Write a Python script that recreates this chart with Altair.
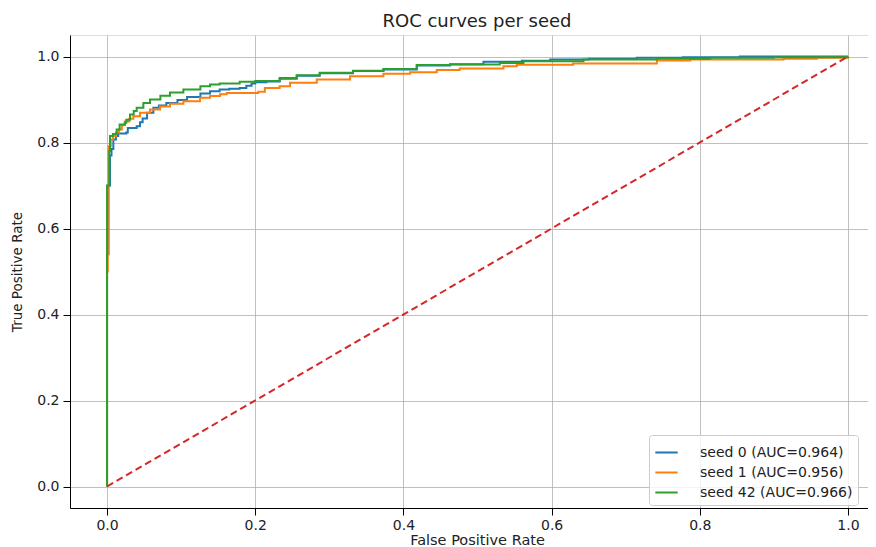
import altair as alt
import pandas as pd

# ---- data ----
seed_labels = ["seed 0 (AUC=0.964)", "seed 1 (AUC=0.956)", "seed 42 (AUC=0.966)"]
seed_colors = ["#1f77b4", "#ff7f0e", "#2ca02c"]

fpr_seed0 = [0, 0, 0.002, 0.004, 0.006, 0.0085, 0.012, 0.015, 0.026, 0.028, 0.040, 0.0445, 0.048,
             0.054, 0.0625, 0.070, 0.080, 0.095, 0.108, 0.126, 0.139, 0.152, 0.165, 0.179, 0.188,
             0.195, 0.200, 0.215, 0.233, 0.256, 0.287, 0.332, 0.373, 0.418, 0.463, 0.508, 0.560,
             0.598, 0.650, 0.715, 0.777, 0.854, 1.0]
tpr_seed0 = [0, 0.54, 0.70, 0.77, 0.785, 0.807, 0.815, 0.821, 0.823, 0.834, 0.838, 0.847, 0.856,
             0.869, 0.881, 0.886, 0.892, 0.899, 0.906, 0.914, 0.919, 0.923, 0.925, 0.927, 0.932,
             0.937, 0.940, 0.942, 0.948, 0.955, 0.961, 0.966, 0.970, 0.979, 0.982, 0.9876, 0.990,
             0.993, 0.995, 0.997, 0.9985, 1.0, 1.0]

fpr_seed1 = [0, 0, 0.001, 0.002, 0.005, 0.008, 0.012, 0.016, 0.020, 0.024, 0.030, 0.0355, 0.0445,
             0.058, 0.0715, 0.085, 0.103, 0.1255, 0.139, 0.1525, 0.1615, 0.204, 0.213, 0.233,
             0.247, 0.283, 0.328, 0.373, 0.409, 0.445, 0.476, 0.535, 0.553, 0.629, 0.742, 0.787,
             0.913, 0.958, 1.0]
tpr_seed1 = [0, 0.50, 0.70, 0.791, 0.807, 0.815, 0.823, 0.830, 0.840, 0.849, 0.855, 0.861, 0.869,
             0.877, 0.884, 0.890, 0.896, 0.904, 0.908, 0.912, 0.915, 0.918, 0.927, 0.931,
             0.939, 0.9465, 0.954, 0.960, 0.9635, 0.9686, 0.972, 0.9775, 0.9806, 0.9837, 0.9907, 0.993,
             0.9946, 0.997, 1.0]

fpr_seed42 = [0, 0, 0.003, 0.004, 0.008, 0.013, 0.017, 0.024, 0.026, 0.031, 0.036, 0.040, 0.049,
              0.058, 0.072, 0.085, 0.103, 0.126, 0.139, 0.152, 0.179, 0.200, 0.233, 0.256, 0.287,
              0.332, 0.373, 0.418, 0.463, 0.530, 0.562, 0.643, 0.742, 0.814, 0.900, 1.0]
tpr_seed42 = [0, 0.70, 0.78, 0.815, 0.82, 0.830, 0.842, 0.846, 0.853, 0.865, 0.873, 0.881, 0.892,
              0.900, 0.909, 0.916, 0.923, 0.931, 0.935, 0.937, 0.941, 0.943, 0.950, 0.9565, 0.962,
              0.967, 0.971, 0.980, 0.9814, 0.985, 0.989, 0.993, 0.9946, 0.997, 0.998, 1.0]

chance_fpr = [0, 1]
chance_tpr = [0, 1]

x_ticks = [0.0, 0.2, 0.4, 0.6, 0.8, 1.0]
y_ticks = [0.0, 0.2, 0.4, 0.6, 0.8, 1.0]

# ---- tables ----
rows = []
for lab, fx, ty in zip(seed_labels, [fpr_seed0, fpr_seed1, fpr_seed42],
                       [tpr_seed0, tpr_seed1, tpr_seed42]):
    for i, (a, b) in enumerate(zip(fx, ty)):
        rows.append({"series": lab, "fpr": a, "tpr": b, "idx": i})
curves = pd.DataFrame(rows)
chance = pd.DataFrame({"fpr": chance_fpr, "tpr": chance_tpr})

FONT = "DejaVu Sans"
xscale = alt.Scale(domain=[-0.05, 1.027], nice=False, zero=False)
yscale = alt.Scale(domain=[-0.05, 1.05], nice=False, zero=False)

xaxis = alt.Axis(title="False Positive Rate", values=x_ticks, format=".1f",
                 grid=True, gridColor="#b0b0b0", gridWidth=0.8,
                 domainColor="#000000", domainWidth=1, tickColor="#000000",
                 tickSize=7, tickWidth=1, labelPadding=3, labelFontSize=14,
                 labelFont=FONT, labelColor="#222222", titleFont=FONT,
                 titleFontSize=14.5, titleFontWeight="normal", titleColor="#222222",
                 titlePadding=1, titleX=407, titleAnchor="start", titleAlign="center",
                 labelFlush=False)
yaxis = alt.Axis(title="True Positive Rate", values=y_ticks, format=".1f",
                 grid=True, gridColor="#b0b0b0", gridWidth=0.8,
                 domainColor="#000000", domainWidth=1, tickColor="#000000",
                 tickSize=7, tickWidth=1, labelPadding=4, labelFontSize=14,
                 labelFont=FONT, labelColor="#222222", titleFont=FONT,
                 titleFontSize=13.5, titleFontWeight="normal", titleColor="#222222",
                 titlePadding=12, labelFlush=False)

lines = alt.Chart(curves).mark_line(interpolate="step-after", strokeWidth=2, clip=True).encode(
    x=alt.X("fpr:Q", scale=xscale, axis=xaxis),
    y=alt.Y("tpr:Q", scale=yscale, axis=yaxis),
    color=alt.Color("series:N",
                    scale=alt.Scale(domain=seed_labels, range=seed_colors),
                    legend=alt.Legend(title=None, orient="none", legendX=579, legendY=400,
                                      symbolType="stroke", symbolStrokeWidth=2,
                                      symbolSize=500, labelFont=FONT, labelFontSize=14,
                                      labelColor="#222222", labelOffset=21,
                                      padding=5, strokeColor="#cccccc",
                                      fillColor="rgba(255,255,255,0.8)", cornerRadius=3,
                                      rowPadding=0)),
    order=alt.Order("idx:Q"),
)

diag = alt.Chart(chance).mark_line(color="#d62728", strokeWidth=2, strokeDash=[7, 4]).encode(
    x=alt.X("fpr:Q", scale=xscale),
    y=alt.Y("tpr:Q", scale=yscale),
)

chart = (
    alt.layer(lines, diag)
    .properties(
        width=798, height=473,
        autosize=alt.AutoSizeParams(type="none"),
        padding={"left": 62, "top": 27, "right": 0, "bottom": 39},
        title=alt.TitleParams("ROC curves per seed", font=FONT, fontSize=18,
                              fontWeight="normal", color="#222222", anchor="middle",
                              offset=4, dx=8),
    )
    .configure_view(stroke="#000000", strokeWidth=1)
    .configure(background="white")
)

chart.save("out.html", embed_options={"renderer": "svg", "actions": False})
